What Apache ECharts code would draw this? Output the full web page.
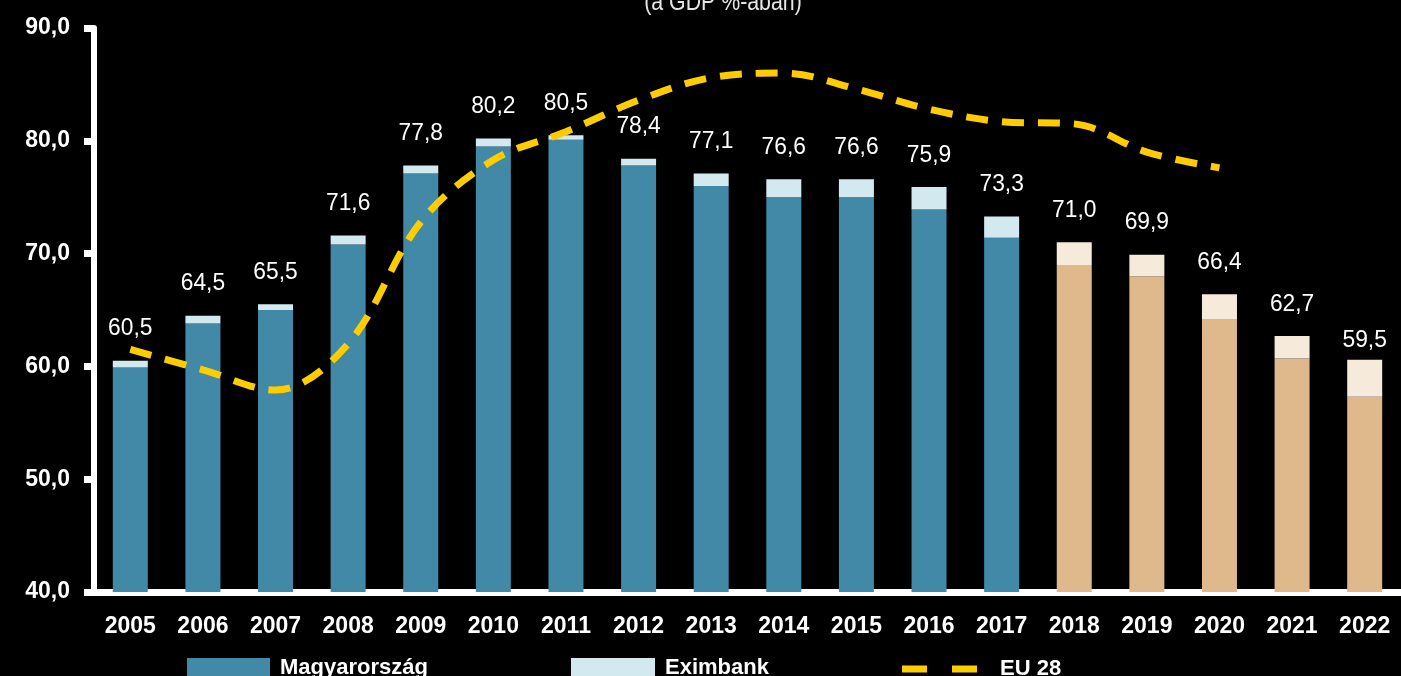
<!DOCTYPE html>
<html>
<head>
<meta charset="utf-8">
<script src="https://cdn.jsdelivr.net/npm/echarts@6/dist/echarts.min.js"></script>
<style>
  html, body { margin: 0; padding: 0; background: #000; }
  #chart { width: 1401px; height: 676px; }
</style>
</head>
<body>
<div id="chart"></div>
<script>
const years = ['2005','2006','2007','2008','2009','2010','2011','2012','2013','2014','2015','2016','2017','2018','2019','2020','2021','2022'];
const magyarorszag = [59.9, 63.8, 65.0, 70.8, 77.1, 79.5, 80.1, 77.8, 76.0, 75.0, 75.0, 73.9, 71.4, 69.0, 68.0, 64.2, 60.7, 57.3];
const eximbank = [0.6, 0.7, 0.5, 0.8, 0.7, 0.7, 0.4, 0.6, 1.1, 1.6, 1.6, 2.0, 1.9, 2.0, 1.9, 2.2, 2.0, 3.3];
const totalLabels = [60.5, 64.5, 65.5, 71.6, 77.8, 80.2, 80.5, 78.4, 77.1, 76.6, 76.6, 75.9, 73.3, 71.0, 69.9, 66.4, 62.7, 59.5];
const eu28 = [61.5, 59.7, 57.9, 62.0, 72.8, 78.3, 80.8, 83.6, 85.6, 86.0, 84.6, 82.8, 81.7, 81.5, 79.0, 77.6];
const forecastFrom = '2018';
const seriesNames = ['Magyarország', 'Eximbank', 'EU 28'];
const subtitle = '(a GDP %-ában)';

const C_DARK = '#4289A8', C_LIGHT = '#D2EAEF', C_TAN = '#DFB98C', C_LTAN = '#F6EADB', C_EU = '#FFCC00';
const SANS = '"Liberation Sans", Arial, sans-serif';
const fIdx = years.indexOf(forecastFrom);
const fmt = v => v.toFixed(1).replace('.', ',');

const legendText = { color: '#fff', fontFamily: SANS, fontWeight: 'bold', fontSize: 22, padding: [0, 0, 0, 5] };

const chart = echarts.init(document.getElementById('chart'));
chart.setOption({
  backgroundColor: '#000',
  animation: false,
  grid: { left: 94, top: 28, width: 1320, bottom: 84, containLabel: false },
  graphic: [{
    type: 'text', x: 723, y: 16, scaleX: 0.82,
    style: { text: subtitle, fill: '#e6e6e6', font: '26px ' + SANS, textAlign: 'center', textVerticalAlign: 'bottom' }
  }],
  legend: [
    { data: [seriesNames[0]], left: 187, top: 657, padding: 0, itemWidth: 83, itemHeight: 20, icon: 'rect',
      textStyle: legendText },
    { data: [seriesNames[1]], left: 571, top: 657, padding: 0, itemWidth: 84, itemHeight: 20, icon: 'rect',
      textStyle: legendText },
    { data: [{ name: seriesNames[2], icon: 'path://M0,0h25v7h-25zM50,0h25v7h-25z' }],
      left: 902, top: 658, padding: 0, itemWidth: 75, itemHeight: 7,
      itemStyle: { color: C_EU, borderWidth: 0 },
      lineStyle: { width: 0 },
      textStyle: Object.assign({}, legendText, { padding: [0, 0, 0, 18] }) }
  ],
  xAxis: {
    type: 'category', data: years,
    axisLine: { lineStyle: { color: '#fff', width: 7 } },
    axisTick: { show: false },
    axisLabel: { color: '#fff', fontFamily: SANS, fontWeight: 'bold', fontSize: 23, margin: 23, interval: 0 }
  },
  yAxis: {
    type: 'value', min: 40, max: 90, interval: 10,
    splitLine: { show: false },
    axisLine: { show: true, lineStyle: { color: '#fff', width: 6 } },
    axisTick: { show: true, length: 10, lineStyle: { color: '#fff', width: 7 } },
    axisLabel: { color: '#fff', fontFamily: SANS, fontWeight: 'bold', fontSize: 23, margin: 24, formatter: fmt }
  },
  series: [
    { name: seriesNames[0], type: 'bar', stack: 'debt', barWidth: 35,
      itemStyle: { color: C_DARK },
      data: magyarorszag.map((v, i) => ({ value: v, itemStyle: { color: i >= fIdx ? C_TAN : C_DARK } })) },
    { name: seriesNames[1], type: 'bar', stack: 'debt', barWidth: 35,
      itemStyle: { color: C_LIGHT },
      data: eximbank.map((v, i) => ({ value: v, itemStyle: { color: i >= fIdx ? C_LTAN : C_LIGHT } })) },
    { name: seriesNames[2], type: 'line', data: eu28, smooth: 0.35, symbol: 'none', z: 5,
      itemStyle: { color: C_EU },
      lineStyle: { color: C_EU, width: 7, type: [22, 14] } },
    { name: 'labels', type: 'custom', z: 6, silent: true,
      data: totalLabels.map((v, i) => [i, v]),
      renderItem: (params, api) => {
        const pt = api.coord([api.value(0), api.value(1)]);
        return {
          type: 'text', x: pt[0], y: pt[1] - 32, scaleX: 0.95,
          style: { text: fmt(api.value(1)), fill: '#fff', font: '24px ' + SANS,
                   textAlign: 'center', textVerticalAlign: 'middle' }
        };
      } }
  ]
});
</script>
</body>
</html>
